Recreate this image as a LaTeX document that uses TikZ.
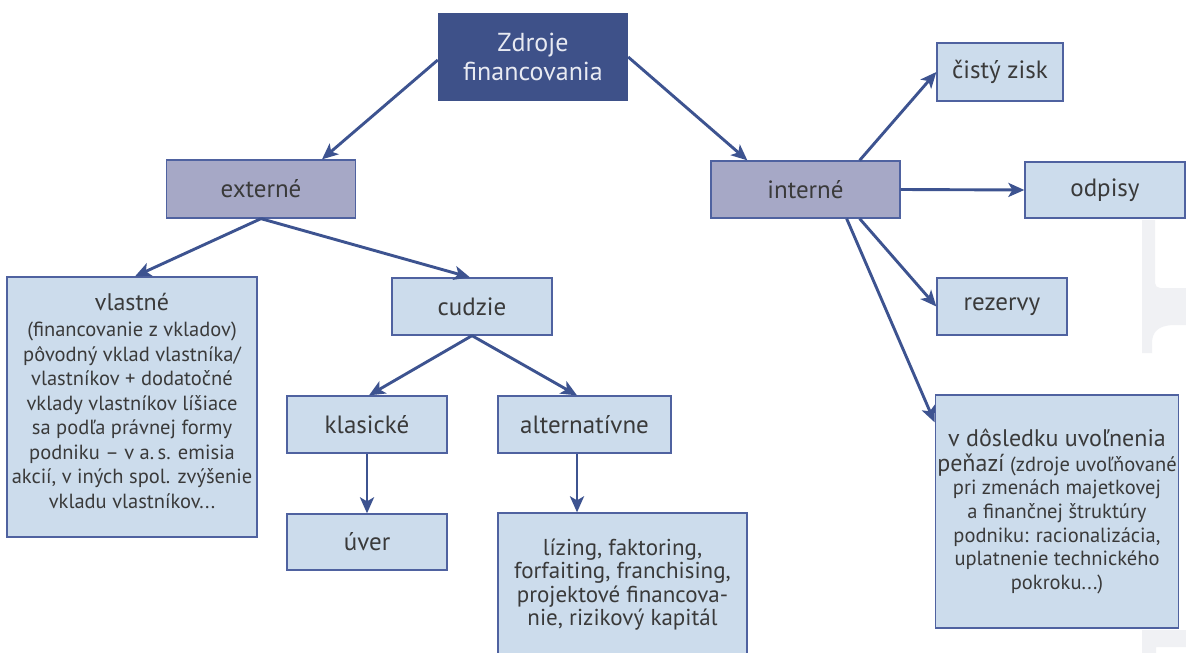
\documentclass[tikz,border=0pt]{standalone}
\usepackage{fontspec}
\setmainfont{PT Sans}
\usetikzlibrary{arrows.meta,calc}
\definecolor{topfill}{HTML}{3E5189}
\definecolor{midfill}{HTML}{A6A8C6}
\definecolor{leaffill}{HTML}{CCDCEC}
\definecolor{bordercol}{HTML}{4F62A0}
\definecolor{arrcol}{HTML}{3D5390}
\definecolor{txtcol}{HTML}{3A3A3A}
\definecolor{toptxt}{HTML}{E8EAF2}
\definecolor{ghost}{HTML}{F0F1F4}
\tikzset{
  basebox/.style={rectangle, inner sep=2pt, align=center, text=txtcol, font=\fontsize{25}{27}\selectfont},
  topbox/.style={basebox, fill=topfill, draw=none, text=toptxt, font=\fontsize{26}{28.5}\selectfont},
  midbox/.style={basebox, fill=midfill, draw=bordercol, line width=1.3pt},
  leafbox/.style={basebox, fill=leaffill, draw=bordercol, line width=1.3pt},
  arr/.style={draw=arrcol, line width=2.9pt, -{Stealth[length=16pt,width=14pt,inset=4pt]}},
}
\begin{document}
\begin{tikzpicture}[x=1pt,y=-1pt]
\useasboundingbox (0,0) rectangle (1186,653);
\clip (0,0) rectangle (1186,653);
\fill[white] (0,0) rectangle (1186,653);
% faint background shapes at the right edge
\fill[ghost] (1142,220) -- (1155,220) -- (1155,283) arc[start angle=180, end angle=90, radius=5] -- (1186,288) -- (1186,325) -- (1172,325) .. controls (1158,326) and (1152,332) .. (1152,343) -- (1152,353) -- (1142,353) -- cycle;
\fill[ghost] (1142,630) -- (1186,630) -- (1186,647) -- (1156,647) -- (1156,653) -- (1142,653) -- cycle;

\node[topbox, minimum width=190, minimum height=88] (top) at (533,57) {Zdroje\\financovania};
\node[midbox, minimum width=189, minimum height=58] (ext) at (261,189) {externé};
\node[midbox, minimum width=189, minimum height=57] (int) at (805.5,189.5) {interné};
\node[leafbox, minimum width=250, minimum height=260, font=\fontsize{20.5}{24.5}\selectfont] (vl) at (132,407)
  {{\fontsize{24}{26}\selectfont vlastné}\\[2pt](financovanie z vkladov)\\pôvodný vklad vlastníka/\\vlastníkov + dodatočné\\vklady vlastníkov líšiace\\sa podľa právnej formy\\podniku – v a.\,s. emisia\\akcií, v iných spol. zvýšenie\\vkladu vlastníkov...\\[-12pt]};
\node[leafbox, minimum width=160, minimum height=57] (cu) at (472,306.5) {cudzie};
\node[leafbox, minimum width=160, minimum height=57] (kl) at (367,424.5) {klasické};
\node[leafbox, minimum width=173, minimum height=57] (al) at (584.5,424.5) {alternatívne};
\node[leafbox, minimum width=160, minimum height=56] (uv) at (367,542) {úver};
\node[leafbox, minimum width=249, minimum height=143, font=\fontsize{23}{23.3}\selectfont] (li) at (622.5,584.5)
  {lízing, faktoring,\\forfaiting, franchising,\\projektové financova-\\nie, rizikový kapitál};
\node[leafbox, minimum width=126, minimum height=58] (ci) at (1000,72) {čistý zisk};
\node[leafbox, minimum width=160, minimum height=56] (od) at (1105,190) {odpisy};
\node[leafbox, minimum width=130, minimum height=57] (re) at (1002,306.5) {rezervy};
\node[leafbox, minimum width=240, minimum height=233, font=\fontsize{20.5}{23.6}\selectfont] (vd) at (1057,511.5)
  {{\fontsize{24}{26}\selectfont v dôsledku uvoľnenia}\\[1pt]{\fontsize{24}{26}\selectfont peňazí} (zdroje uvoľňované\\pri zmenách majetkovej\\a finančnej štruktúry\\podniku: racionalizácia,\\uplatnenie technického\\pokroku...)};

% connectors
\draw[arr] ($(top.west)+(0,3)$) -- ($(ext.north)+(61,0)$);
\draw[arr] (top.east) -- ($(int.north west)+(37,0)$);
\draw[arr] (ext.south) -- ($(vl.north)+(3,0)$);
\draw[arr] (ext.south) -- ($(cu.north)+(-2,0)$);
\draw[arr] (cu.south) -- ($(kl.north)+(2,0)$);
\draw[arr] (cu.south) -- ($(al.north)+(-7.5,0)$);
\draw[arr] (kl.south) -- (uv.north);
\coordinate (a1) at ($(al.south)+(-7.5,0)$);
\draw[arr] (a1) -- (a1 |- li.north);
\draw[arr] ($(int.north east)+(-41,0)$) -- (ci.west);
\draw[arr] (int.east) -- (od.west);
\draw[arr] ($(int.south east)+(-41,0)$) -- (re.west);
\draw[arr] ($(int.south east)+(-54,0)$) -- ($(vd.north west)+(0,28)$);
\end{tikzpicture}
\end{document}
